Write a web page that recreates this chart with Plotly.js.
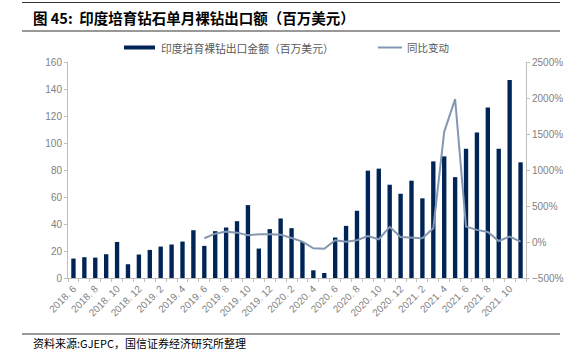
<!DOCTYPE html>
<html>
<head>
<meta charset="utf-8">
<script src="https://cdn.plot.ly/plotly-3.0.1.min.js"></script>
<style>
html,body{margin:0;padding:0;background:#fff;}
#chart{width:574px;height:359px;}
</style>
</head>
<body>
<div id="chart"></div>
<script>
// ---- data ----
const months = ["2018. 6","2018. 7","2018. 8","2018. 9","2018. 10","2018. 11","2018. 12",
  "2019. 1","2019. 2","2019. 3","2019. 4","2019. 5","2019. 6","2019. 7","2019. 8","2019. 9","2019. 10","2019. 11","2019. 12",
  "2020. 1","2020. 2","2020. 3","2020. 4","2020. 5","2020. 6","2020. 7","2020. 8","2020. 9","2020. 10","2020. 11","2020. 12",
  "2021. 1","2021. 2","2021. 3","2021. 4","2021. 5","2021. 6","2021. 7","2021. 8","2021. 9","2021. 10","2021. 11"];
const exportValue = [14.4,15.4,15.1,17.6,26.7,10.2,17.4,
  20.8,23.3,24.8,27,35.4,23.8,34.7,37.4,42.1,54,21.8,36.2,
  44.1,36.9,26.7,5.7,3.7,30,38.6,49.8,79.5,81,69.1,62.4,
  72.1,59,86.4,90.1,74.7,95.8,107.7,126.3,95.8,146.6,85.7];
const yoyMonths = months.slice(12);
const yoyValue = [52,116,144,130,94,108,108,
  102,55,5,-88,-95,24,2,24,84,38,210,70,
  56,52,192,1530,1984,214,168,140,14,74,4];
const seriesNames = ["印度培育裸钻出口金额（百万美元）","同比变动"];
const titleText = "图 45:  印度培育钻石单月裸钻出口额（百万美元）";
const sourceText = "资料来源:GJEPC，国信证券经济研究所整理";

// ---- layout helpers ----
const W = 574, H = 359, L = 68, R = 48, T = 62, B = 81;
const pw = W - L - R, ph = H - T - B;
const px = x => (x - L) / pw;
const py = y => (H - B - y) / ph;

const idx = months.map((m, i) => i);
const yoyIdx = yoyMonths.map(m => months.indexOf(m));
const tickIdx = idx.filter(i => i % 2 === 0);
const tickTxt = tickIdx.map(i => months[i]);

const navy = "#002456";
const lineCol = "#8497B0";
const grey = "#7f7f7f";
const axisCol = "#bfbfbf";
const cjk = "Liberation Sans, Arial, Noto Sans CJK SC, sans-serif";

const traces = [
  {type: "bar", x: idx, y: exportValue, name: seriesNames[0], marker: {color: navy}, yaxis: "y", showlegend: false},
  {type: "scatter", mode: "lines", x: yoyIdx, y: yoyValue, name: seriesNames[1], line: {color: lineCol, width: 2}, yaxis: "y2", showlegend: false}
];

const layout = {
  width: W, height: H,
  margin: {l: L, r: R, t: T, b: B, pad: 0},
  paper_bgcolor: "#fff", plot_bgcolor: "#fff",
  bargap: 0.6,
  font: {family: cjk, size: 10, color: grey},
  xaxis: {
    range: [-0.5, 41.5], tickmode: "array", tickvals: tickIdx, ticktext: tickTxt,
    tickangle: -45, showgrid: false, zeroline: false,
    showline: true, linecolor: axisCol, linewidth: 1,
    ticks: "", tickfont: {size: 10, color: grey, family: cjk},
    minor: {tickmode: "linear", tick0: 0.5, dtick: 1, ticks: "outside", ticklen: 3, tickcolor: axisCol, showgrid: false}
  },
  yaxis: {
    range: [0, 160], dtick: 20, showgrid: false, zeroline: false,
    showline: true, linecolor: axisCol, linewidth: 1,
    ticks: "outside", ticklen: 3, tickcolor: axisCol,
    tickfont: {size: 10, color: grey, family: cjk}
  },
  yaxis2: {
    overlaying: "y", side: "right",
    range: [-500, 2500], dtick: 500, ticksuffix: "%", showgrid: false, zeroline: false,
    showline: true, linecolor: axisCol, linewidth: 1,
    ticks: "outside", ticklen: 3, tickcolor: axisCol,
    tickfont: {size: 10, color: grey, family: cjk}
  },
  shapes: [
    {type: "line", xref: "paper", yref: "paper", x0: px(22), x1: px(560), y0: py(2.5), y1: py(2.5), line: {color: "#333", width: 1}},
    {type: "line", xref: "paper", yref: "paper", x0: px(22), x1: px(560), y0: py(31), y1: py(31), line: {color: "#333", width: 1.2}},
    {type: "line", xref: "paper", yref: "paper", x0: px(22), x1: px(560), y0: py(334), y1: py(334), line: {color: "#333", width: 1.2}},
    {type: "rect", xref: "paper", yref: "paper", x0: px(124), x1: px(155), y0: py(49.5), y1: py(45.5), fillcolor: navy, line: {width: 0}},
    {type: "line", xref: "paper", yref: "paper", x0: px(378), x1: px(402), y0: py(47.5), y1: py(47.5), line: {color: lineCol, width: 2}}
  ],
  annotations: [
    {xref: "paper", yref: "paper", x: px(31), y: py(17), xanchor: "left", yanchor: "middle", showarrow: false,
     text: "<b>" + titleText + "</b>", font: {family: "Noto Sans CJK SC, sans-serif", size: 14.5, color: "#000"}},
    {xref: "paper", yref: "paper", x: px(159), y: py(47.5), xanchor: "left", yanchor: "middle", showarrow: false,
     text: seriesNames[0], font: {family: "Noto Sans CJK SC, sans-serif", size: 10.8, color: "#595959"}},
    {xref: "paper", yref: "paper", x: px(405), y: py(47.5), xanchor: "left", yanchor: "middle", showarrow: false,
     text: seriesNames[1], font: {family: "Noto Sans CJK SC, sans-serif", size: 10.5, color: "#595959"}},
    {xref: "paper", yref: "paper", x: px(31), y: py(343), xanchor: "left", yanchor: "middle", showarrow: false,
     text: sourceText, font: {family: "Noto Sans CJK SC, sans-serif", size: 11, color: "#000"}}
  ]
};

Plotly.newPlot("chart", traces, layout, {displayModeBar: false, staticPlot: true});
</script>
</body>
</html>
